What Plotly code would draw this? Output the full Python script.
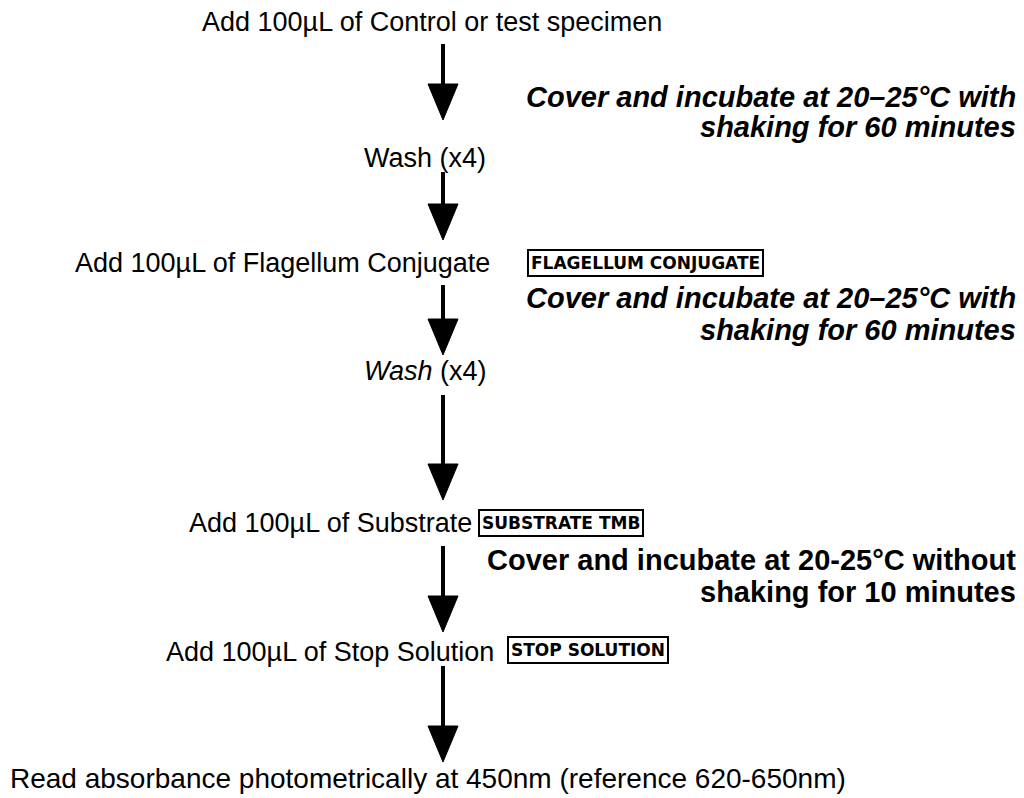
import plotly.graph_objects as go

# ---- content ----
step_texts = [
    "Add 100µL of Control or test specimen",
    "Wash (x4)",
    "Add 100µL of Flagellum Conjugate",
    "<i>Wash</i> (x4)",
    "Add 100µL of Substrate",
    "Add 100µL of Stop Solution",
    "Read absorbance photometrically at 450nm (reference 620-650nm)",
]
step_x = [432, 425, 282, 425, 330, 330, 428]
step_y = [22, 158, 263, 371, 523, 652, 778]
step_size = [27, 27, 27, 27, 27, 27, 28]

box_labels = ["FLAGELLUM CONJUGATE", "SUBSTRATE TMB", "STOP SOLUTION"]
box_x = [527, 478, 507]
box_y = [263, 523, 650]

incubation_lines = [
    "<b><i>Cover and incubate at 20–25°C with</i></b>",
    "<b><i>shaking for 60 minutes</i></b>",
    "<b><i>Cover and incubate at 20–25°C with</i></b>",
    "<b><i>shaking for 60 minutes</i></b>",
    "<b>Cover and incubate at 20-25°C without</b>",
    "<b>shaking for 10 minutes</b>",
]
incubation_y = [97, 127, 298, 330, 560, 592]

arrow_x = 443
arrow_top = [44, 172, 285, 395, 546, 666]
arrow_tip = [120, 240, 355, 500, 632, 762]

FONT = "Arial, Liberation Sans, sans-serif"
PAGE_OFFSET = 8  # default body margin of the html page

fig = go.Figure()
fig.add_trace(go.Scatter(x=[100, 900], y=[100, 700], mode="markers",
                         marker=dict(opacity=0), hoverinfo="skip", showlegend=False))

annotations = []
for t, x, y, s in zip(step_texts, step_x, step_y, step_size):
    annotations.append(dict(x=x, y=y, text=t, showarrow=False, xanchor="center",
                            yanchor="middle", font=dict(family=FONT, size=s, color="black")))
for t, x, y in zip(box_labels, box_x, box_y):
    annotations.append(dict(x=x, y=y, text="<b>" + t + "</b>", showarrow=False, xanchor="left",
                            yanchor="middle", bordercolor="black", borderwidth=2, borderpad=2,
                            font=dict(family="DejaVu Sans, sans-serif", size=17, color="black")))
for t, y in zip(incubation_lines, incubation_y):
    annotations.append(dict(x=1018, y=y, text=t, showarrow=False, xanchor="right",
                            yanchor="middle", font=dict(family=FONT, size=29, color="black")))

shapes = []
head_h = 36
head_w = 15
for top, tip in zip(arrow_top, arrow_tip):
    base = tip - head_h
    shapes.append(dict(type="line", x0=arrow_x, x1=arrow_x, y0=top, y1=base + 2,
                       xref="x", yref="y", line=dict(color="black", width=4)))
    shapes.append(dict(type="path",
                       path=f"M {arrow_x - head_w},{base} L {arrow_x + head_w},{base} L {arrow_x},{tip} Z",
                       xref="x", yref="y", fillcolor="black", line=dict(color="black", width=1)))

W, H = 1024 - PAGE_OFFSET, 798 - PAGE_OFFSET
fig.update_layout(
    width=W, height=H,
    margin=dict(l=0, r=0, t=0, b=0),
    paper_bgcolor="white", plot_bgcolor="white",
    xaxis=dict(range=[PAGE_OFFSET, 1024], visible=False, fixedrange=True),
    yaxis=dict(range=[798, PAGE_OFFSET], visible=False, fixedrange=True),
    annotations=annotations, shapes=shapes,
    showlegend=False,
)
fig.write_html("out.html", config={"displayModeBar": False})
